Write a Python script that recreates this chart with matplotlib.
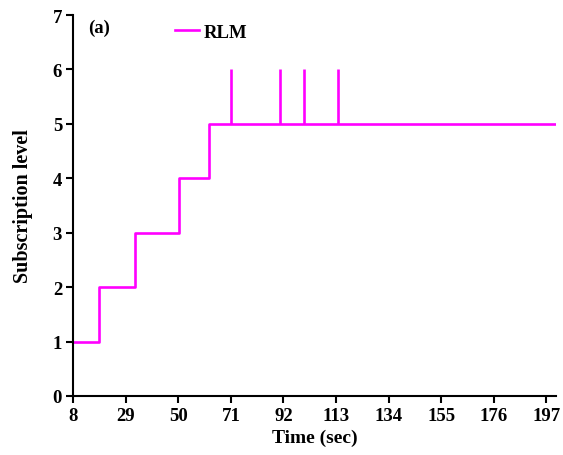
import matplotlib
matplotlib.use("Agg")
import matplotlib.pyplot as plt

# Data
change_times = [8, 18.5, 32.6, 50.1, 62.1]
levels = [1, 2, 3, 4, 5]
end_time = 201
spike_times = [71.2, 90.7, 100.3, 113.8]
spike_low = 5
spike_high = 6
x_ticks = [8, 29, 50, 71, 92, 113, 134, 155, 176, 197]
y_ticks = [0, 1, 2, 3, 4, 5, 6, 7]

plt.rcParams['font.family'] = ['Liberation Serif', 'DejaVu Serif']

fig = plt.figure(figsize=(5.63, 4.56), dpi=100)
ax = fig.add_axes([0.130, 0.1294, 0.858, 0.8355])

color = '#FF00FF'
t = change_times + [end_time]
lv = levels + [levels[-1]]
line, = ax.step(t, lv, where='post', color=color, lw=1.9, label='RLM')
ax.vlines(spike_times, spike_low, spike_high, color=color, lw=1.9)

ax.set_xlim(8, end_time)
ax.set_ylim(0, 7)
ax.set_xticks(x_ticks)
ax.set_yticks(y_ticks)
for lab in ax.get_xticklabels() + ax.get_yticklabels():
    lab.set_fontweight('bold')
    lab.set_fontsize(13.5)
ax.tick_params(direction='out', length=5, width=1.5, pad=3)
for s in ['top', 'right']:
    ax.spines[s].set_visible(False)
for s in ['left', 'bottom']:
    ax.spines[s].set_linewidth(1.5)

ax.set_xlabel('Time (sec)', fontsize=14, fontweight='bold', labelpad=3.5)
ax.set_ylabel('Subscription level', fontsize=14.5, fontweight='bold', labelpad=14)

ax.text(0.031, 0.968, '(a)', transform=ax.transAxes, ha='left', va='center',
        fontsize=13.5, fontweight='bold')

leg = ax.legend(handles=[line], loc='center left', bbox_to_anchor=(0.211, 0.955),
                frameon=False, borderpad=0, borderaxespad=0, handlelength=1.3,
                handletextpad=0.25, prop={'size': 13.5, 'weight': 'bold'})

fig.savefig('out.png', dpi=100)
